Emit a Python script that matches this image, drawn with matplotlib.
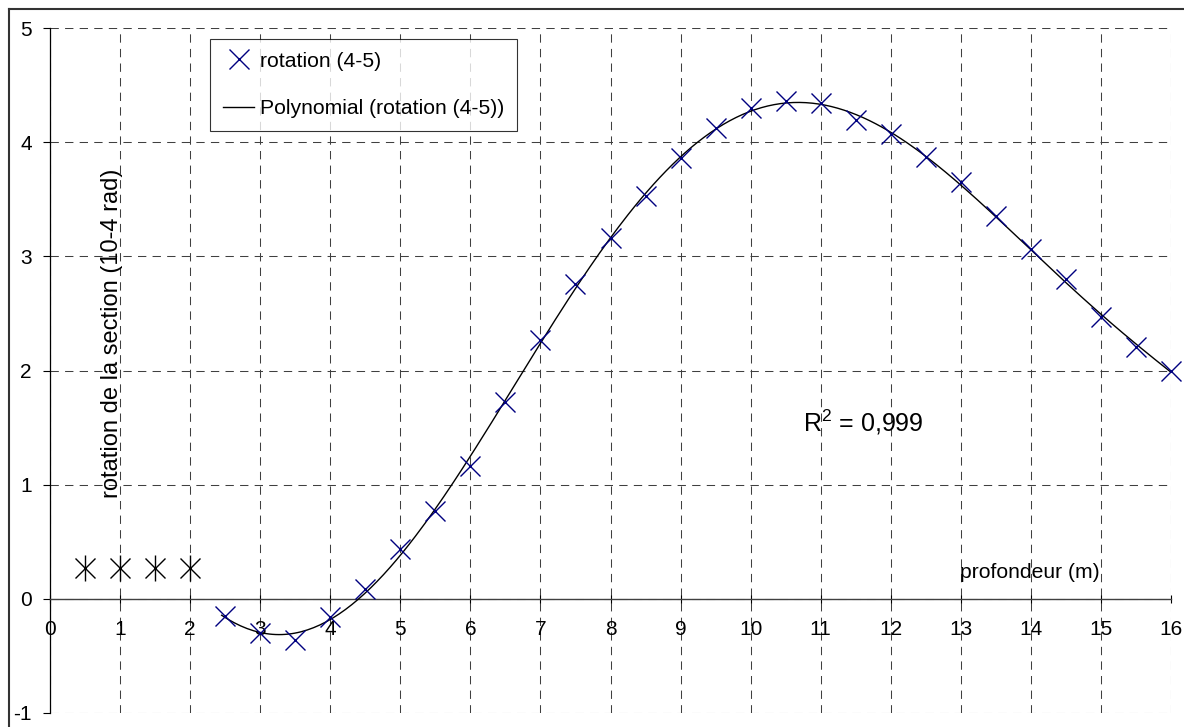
import numpy as np
import matplotlib
matplotlib.use("Agg")
import matplotlib.pyplot as plt
from matplotlib.lines import Line2D

plt.rcParams['font.family'] = ['Liberation Sans', 'DejaVu Sans']
plt.rcParams['mathtext.fontset'] = 'custom'
plt.rcParams['mathtext.rm'] = 'Liberation Sans'
plt.rcParams['mathtext.it'] = 'Liberation Sans:italic'
plt.rcParams['mathtext.bf'] = 'Liberation Sans:bold'

# ---- data ----
depth = [2.5, 3, 3.5, 4, 4.5, 5, 5.5, 6, 6.5, 7, 7.5, 8, 8.5, 9, 9.5, 10,
         10.5, 11, 11.5, 12, 12.5, 13, 13.5, 14, 14.5, 15, 15.5, 16]
rotation = [-0.15, -0.30, -0.36, -0.155, 0.09, 0.44, 0.77, 1.16, 1.72, 2.27,
            2.76, 3.16, 3.53, 3.86, 4.12, 4.30, 4.36, 4.34, 4.19, 4.07,
            3.87, 3.65, 3.35, 3.06, 2.80, 2.47, 2.21, 2.00]
excl_depth = [0.5, 1, 1.5, 2]
excl_rot = [0.27, 0.27, 0.27, 0.27]
x_ticks = list(range(0, 17))
y_ticks = [-1, 0, 1, 2, 3, 4, 5]
series_label = "rotation (4-5)"
trend_label = "Polynomial (rotation (4-5))"
r2_text = r"$\mathrm{R}^2$ = 0,999"
x_label = "profondeur (m)"
y_label = "rotation de la section (10-4 rad)"

W, H = 1184, 727
fig = plt.figure(figsize=(W / 100, H / 100), dpi=100)
fig.patch.set_facecolor('white')

ax = fig.add_axes([50 / W, 1 - 713 / H, 1121 / W, 685 / H])
ax.set_xlim(0, 16)
ax.set_ylim(-1, 5)

fs = 15
# grid
ax.set_xticks(x_ticks)
ax.set_yticks(y_ticks)
ax.grid(True, color='#404040', linestyle=(0, (8, 6)), linewidth=0.75)
ax.set_axisbelow(True)

for s in ['top', 'right']:
    ax.spines[s].set_visible(False)
ax.spines['bottom'].set_position(('data', 0))
ax.spines['left'].set_position(('data', 0))
ax.spines['bottom'].set_color('#404040')
ax.spines['left'].set_color('black')
ax.spines['bottom'].set_linewidth(1.0)
ax.spines['left'].set_linewidth(0.9)

ax.tick_params(axis='x', direction='inout', length=6, width=0.8, pad=12,
               labelsize=fs, colors='black')
ax.tick_params(axis='y', direction='out', length=5, width=0.8, pad=8,
               labelsize=fs, colors='black')
ax.set_xticklabels([str(v) for v in x_ticks])
ax.set_yticklabels([str(v) for v in y_ticks])

# trendline (polynomial fit of the series)
coef = np.polyfit(depth, rotation, 6)
xs = np.linspace(min(depth) - 0.05, max(depth), 300)
ax.plot(xs, np.polyval(coef, xs), color='black', linewidth=1.0,
        label=trend_label, zorder=3)

# series markers
ax.plot(depth, rotation, linestyle='none', marker='x', markersize=15,
        markeredgewidth=1.0, color='#000080', label=series_label, zorder=4,
        clip_on=False)

# excluded points (black asterisks)
ax.plot(excl_depth, excl_rot, linestyle='none', marker='x', markersize=14,
        markeredgewidth=1.0, color='black', zorder=4)
ax.plot(excl_depth, excl_rot, linestyle='none', marker='|', markersize=19,
        markeredgewidth=1.0, color='black', zorder=4)

handles, labels = ax.get_legend_handles_labels()
leg = ax.legend([handles[1], handles[0]], [labels[1], labels[0]],
                loc='upper left', bbox_to_anchor=(210 / W, 1 - 39 / H),
                bbox_transform=fig.transFigure, borderaxespad=0,
                fontsize=15.2, frameon=True, fancybox=False, shadow=False,
                handlelength=1.5, handletextpad=0.25, labelspacing=1.35,
                borderpad=0.6)
leg.get_frame().set_edgecolor('black')
leg.get_frame().set_linewidth(0.8)
leg.set_zorder(10)

# annotations
fig.text(803 / W, 1 - 431 / H, r2_text, fontsize=18, ha='left', va='baseline')
fig.text(960 / W, 1 - 572 / H, x_label, fontsize=15.2, ha='left', va='center')
fig.text(112 / W, 1 - 333 / H, y_label, rotation=90, fontsize=17,
         ha='center', va='center')

# outer border (top and left visible)
fig.add_artist(Line2D([9 / W, 1.01], [1 - 9 / H, 1 - 9 / H],
                      transform=fig.transFigure, color='#333333', linewidth=1.5))
fig.add_artist(Line2D([9 / W, 9 / W], [1 - 9 / H, -0.01],
                      transform=fig.transFigure, color='#333333', linewidth=1.5))

fig.savefig('out.png', dpi=100, facecolor='white')
